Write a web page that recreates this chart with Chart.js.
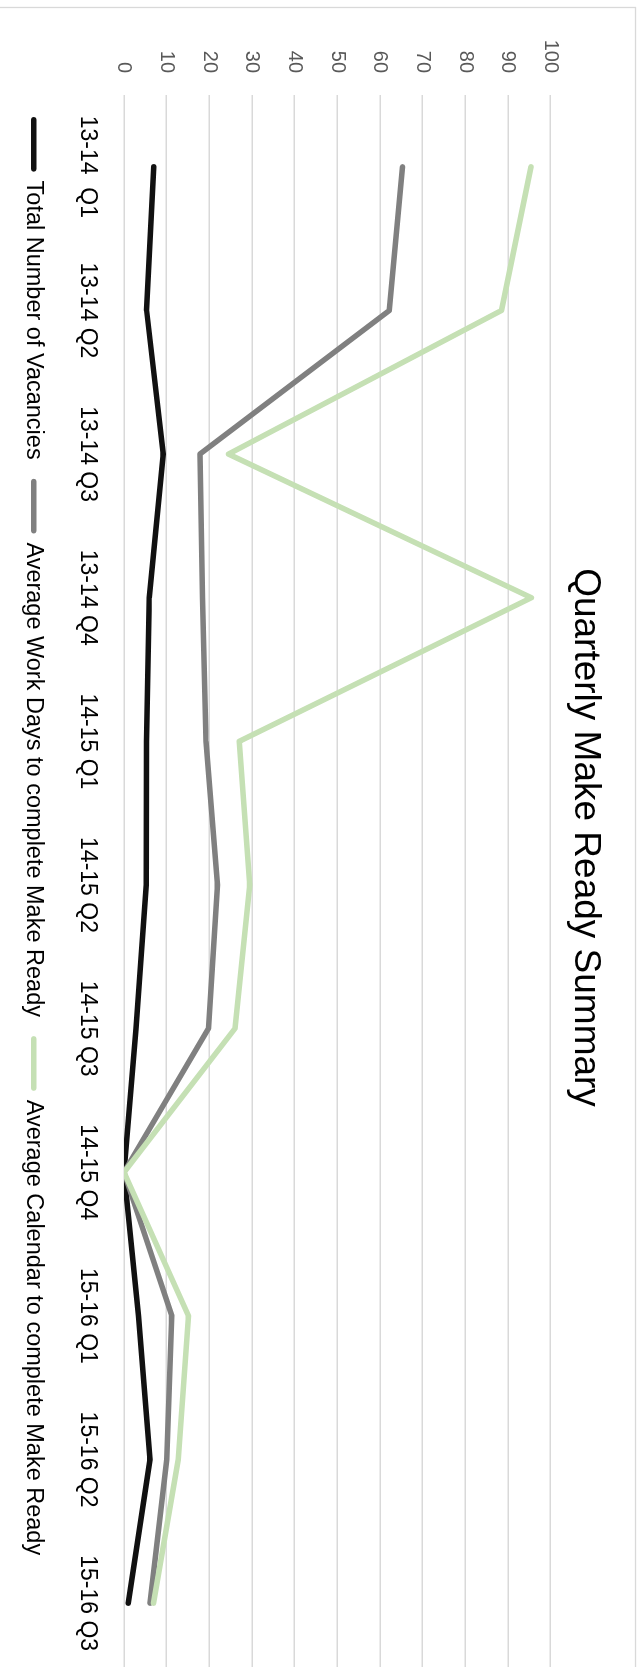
<!DOCTYPE html>
<html>
<head>
<meta charset="utf-8">
<title>Quarterly Make Ready Summary</title>
<script src="https://cdn.jsdelivr.net/npm/chart.js@4.4.1/dist/chart.umd.min.js"></script>
<style>
  html, body { margin: 0; padding: 0; background: #fff; }
  body { width: 637px; height: 1667px; overflow: hidden; position: relative; font-family: "Liberation Sans"; }
  /* chart is drawn landscape, then turned a quarter clockwise */
  #wrap {
    position: absolute; left: 0; top: 0;
    width: 1675px; height: 637px;
    transform-origin: 0 0;
    transform: translate(637px, 0) rotate(90deg);
  }
  #fontwarm { position: absolute; left: -999px; top: 0; font-family: "Liberation Sans"; }
</style>
</head>
<body>
<span id="fontwarm">Quarterly 0123456789</span>
<div id="wrap"><canvas id="mrChart" width="1675" height="637"></canvas></div>
<script>
// Data
const quarters = ["13-14  Q1", "13-14 Q2", "13-14 Q3", "13-14 Q4", "14-15 Q1", "14-15 Q2",
  "14-15 Q3", "14-15 Q4", "15-16 Q1", "15-16 Q2", "15-16 Q3"];
const totalVacancies = [7, 5.3, 9.2, 5.9, 5.3, 5.2, 2.8, 0, 3.4, 6.1, 1];
const avgWorkDays = [65.3, 62.2, 17.8, 18.4, 19.2, 21.9, 19.8, 0, 11.2, 10, 6.1];
const avgCalendarDays = [95.4, 88.5, 24.5, 95.5, 27, 29.5, 26, 0, 15.1, 12.7, 6.9];
const valueTicks = [0, 10, 20, 30, 40, 50, 60, 70, 80, 90, 100];

Chart.defaults.font.family = "'Liberation Sans', Arial, Helvetica, sans-serif";

const LINE_W = 5.5;

// white background and thin frame around the chart
const framePlugin = {
  id: "frame",
  beforeDraw(chart) {
    const ctx = chart.ctx;
    ctx.save();
    ctx.fillStyle = "#fff";
    ctx.fillRect(0, 0, chart.width, chart.height);
    ctx.strokeStyle = "#d9d9d9";
    ctx.lineWidth = 1.3;
    ctx.strokeRect(7.5, 1.5, chart.width, chart.height);
    ctx.restore();
  }
};

function makeLine(label, data, color, order) {
  return {
    label: label,
    data: data,
    borderColor: color,
    backgroundColor: color,
    borderWidth: LINE_W,
    borderCapStyle: "round",
    borderJoinStyle: "round",
    pointRadius: 0,
    pointHoverRadius: 0,
    tension: 0,
    fill: false,
    order: order
  };
}

// legend markers: thick round-capped line like the series
function legendLabels(chart) {
  const items = Chart.defaults.plugins.legend.labels.generateLabels(chart);
  items.forEach((item) => {
    const ds = chart.data.datasets[item.datasetIndex];
    item.lineWidth = LINE_W;
    item.lineCap = "round";
    item.strokeStyle = ds.borderColor;
    item.fillStyle = ds.borderColor;
  });
  return items;
}

function drawChart() {
  const ctx = document.getElementById("mrChart").getContext("2d");

  new Chart(ctx, {
    type: "line",
    data: {
      labels: quarters,
      datasets: [
        makeLine("Total Number of Vacancies", totalVacancies, "#111111", 3),
        makeLine("Average Work Days to complete Make Ready", avgWorkDays, "#808080", 2),
        makeLine("Average Calendar to complete Make Ready", avgCalendarDays, "#c5e0b4", 1)
      ]
    },
    options: {
      responsive: false,
      animation: false,
      layout: { padding: { left: 0, right: 0, top: 0, bottom: 12 } },
      plugins: {
        title: {
          display: true,
          text: "Quarterly Make Ready Summary",
          color: "#000",
          font: { size: 37, weight: "normal" },
          padding: { top: 30, bottom: 12 }
        },
        legend: {
          position: "bottom",
          labels: {
            color: "#000",
            font: { size: 23.5 },
            usePointStyle: true,
            pointStyle: "line",
            pointStyleWidth: 49,
            padding: 22,
            generateLabels: legendLabels,
            sort: (a, b) => a.datasetIndex - b.datasetIndex
          }
        },
        tooltip: { enabled: false }
      },
      scales: {
        x: {
          offset: true,
          grid: { display: false },
          border: { display: false },
          ticks: { color: "#000", font: { size: 23 }, padding: 15, maxRotation: 0, autoSkip: false },
          afterFit: (scale) => { scale.height = 56.5; }
        },
        y: {
          min: 0,
          max: 100,
          grid: { color: "#d9d9d9", lineWidth: 1.5, drawTicks: false },
          border: { display: false },
          ticks: { color: "#595959", font: { size: 20 }, padding: 22 },
          afterBuildTicks: (scale) => { scale.ticks = valueTicks.map(v => ({ value: v })); },
          afterFit: (scale) => { scale.width = 95; }
        }
      }
    },
    plugins: [framePlugin]
  });
}

// make sure the system font is ready before the canvas uses it
Promise.all([
  document.fonts.load("20px 'Liberation Sans'"),
  document.fonts.load("37px 'Liberation Sans'")
]).then(drawChart, drawChart);
</script>
</body>
</html>
